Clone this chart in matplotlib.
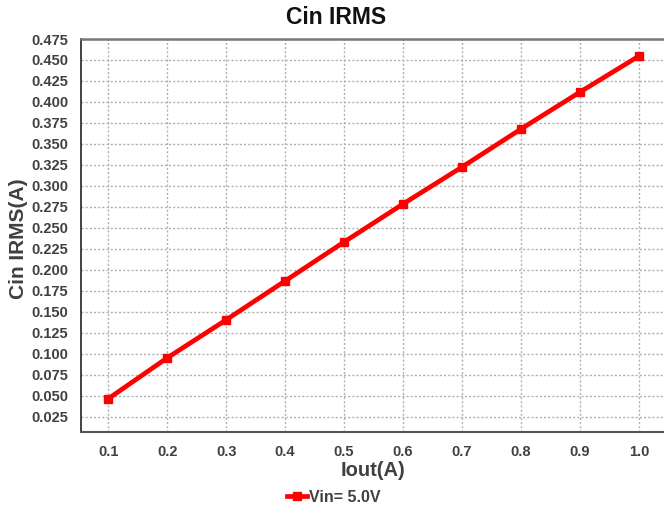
import matplotlib
matplotlib.use("Agg")
import matplotlib.pyplot as plt
import numpy as np

iout = [0.1, 0.2, 0.3, 0.4, 0.5, 0.6, 0.7, 0.8, 0.9, 1.0]
cin_irms = [0.0465, 0.0952, 0.1405, 0.1869, 0.2333, 0.2786, 0.3226, 0.3679, 0.4119, 0.4548]
xticks = [0.1, 0.2, 0.3, 0.4, 0.5, 0.6, 0.7, 0.8, 0.9, 1.0]
yticks = [0.025, 0.050, 0.075, 0.100, 0.125, 0.150, 0.175, 0.200, 0.225, 0.250,
          0.275, 0.300, 0.325, 0.350, 0.375, 0.400, 0.425, 0.450, 0.475]

plt.rcParams['font.family'] = ['Liberation Sans', 'DejaVu Sans']

W, H = 664, 515
fig = plt.figure(figsize=(W / 100, H / 100), dpi=100)
left, right, top, bottom = 81, 668, 39, 432
ax = fig.add_axes([left / W, 1 - bottom / H, (right - left) / W, (bottom - top) / H])

ax.plot(iout, cin_irms, color='#ff0000', lw=3.4, marker='s', ms=5.5, label='Vin= 5.0V',
        solid_joinstyle='miter', clip_on=False, zorder=3)

ax.set_xlim(0.054, 1.049)
ax.set_ylim(0.007, 0.475)
ax.set_xticks(xticks)
ax.set_xticklabels([f"{v:.1f}" for v in xticks])
ax.set_yticks(yticks)
ax.set_yticklabels([f"{v:.3f}" for v in yticks])
ax.tick_params(length=0, labelsize=10.5, labelcolor='#404040')
ax.tick_params(axis='x', pad=9)
ax.tick_params(axis='y', pad=9)
for lbl in ax.get_xticklabels() + ax.get_yticklabels():
    lbl.set_fontweight('bold')

ax.grid(True, color='#b0b0b0', ls=(0, (1.5, 1.5)), lw=1.0)
ax.spines['left'].set_color('#222222')
ax.spines['left'].set_linewidth(1.2)
ax.spines['bottom'].set_color('#555555')
ax.spines['bottom'].set_linewidth(1.5)
ax.spines['top'].set_color('#777777')
ax.spines['top'].set_linewidth(1.8)
ax.spines['right'].set_visible(False)

fig.text(336 / W, 1 - 18 / H, 'Cin IRMS', ha='center', va='center',
         fontsize=16.5, fontweight='bold', color='#111111')
fig.text(19 / W, 1 - 239 / H, 'Cin IRMS(A)', ha='center', va='center', rotation=90,
         fontsize=15, fontweight='bold', color='#404040')
fig.text(373 / W, 1 - 471 / H, 'Iout(A)', ha='center', va='center',
         fontsize=14.5, fontweight='bold', color='#404040')

leg = fig.legend(loc='center', bbox_to_anchor=(334 / W, 1 - 497 / H), frameon=False,
                 handlelength=1.2, handletextpad=0.15, prop={'size': 11.5, 'weight': 'bold'})
for t in leg.get_texts():
    t.set_color('#404040')

fig.savefig('out.png', dpi=100)
